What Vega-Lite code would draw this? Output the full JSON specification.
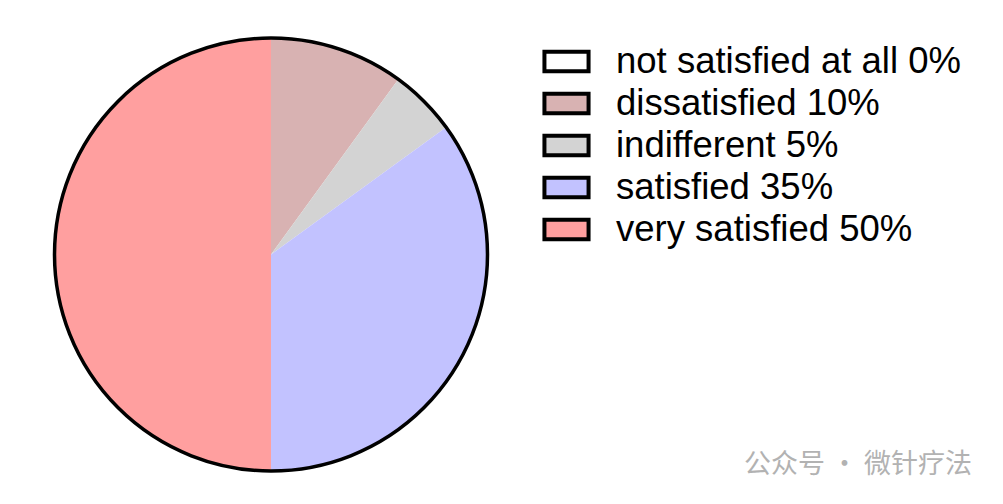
{
  "$schema": "https://vega.github.io/schema/vega-lite/v6.json",
  "width": 542,
  "height": 499,
  "autosize": "none",
  "padding": {"left": 0, "top": 5, "right": 461, "bottom": 0},
  "background": "white",
  "view": {"stroke": null},
  "title": {
    "text": "公众号 · 微针疗法",
    "orient": "bottom",
    "anchor": "end",
    "frame": "group",
    "dx": 430,
    "dy": -52,
    "offset": 0,
    "font": "Noto Sans CJK SC",
    "fontSize": 27,
    "fontWeight": "normal",
    "color": "#b2b2b2"
  },
  "layer": [
    {
      "data": {"values": [
        {"label": "not satisfied at all 0%", "value": 0},
        {"label": "dissatisfied 10%", "value": 10},
        {"label": "indifferent 5%", "value": 5},
        {"label": "satisfied 35%", "value": 35},
        {"label": "very satisfied 50%", "value": 50}
      ]},
      "mark": {"type": "arc", "outerRadius": 216, "stroke": null},
      "encoding": {
        "theta": {"field": "value", "type": "quantitative", "stack": true},
        "color": {
          "field": "label",
          "type": "nominal",
          "sort": null,
          "scale": {
            "domain": ["not satisfied at all 0%", "dissatisfied 10%", "indifferent 5%", "satisfied 35%", "very satisfied 50%"],
            "range": ["#ffffff", "#d8b2b2", "#d3d3d3", "#c2c2ff", "#ff9f9f"]
          },
          "legend": {
            "orient": "none",
            "legendX": 543,
            "legendY": 33,
            "title": null,
            "symbolType": "M-1.04,-0.464H1.04V0.464H-1.04Z",
            "symbolSize": 1800,
            "symbolStrokeColor": "black",
            "symbolStrokeWidth": 4,
            "symbolOpacity": 1,
            "labelFont": "Liberation Sans",
            "labelFontSize": 36.5,
            "labelColor": "black",
            "labelOffset": 26,
            "labelLimit": 500,
            "rowPadding": 0,
            "padding": 0
          }
        }
      }
    },
    {
      "data": {"values": [{"value": 100}]},
      "mark": {"type": "arc", "outerRadius": 216.5, "fillOpacity": 0, "stroke": "black", "strokeWidth": 3.5},
      "encoding": {
        "theta": {"field": "value", "type": "quantitative", "stack": true}
      }
    }
  ]
}
